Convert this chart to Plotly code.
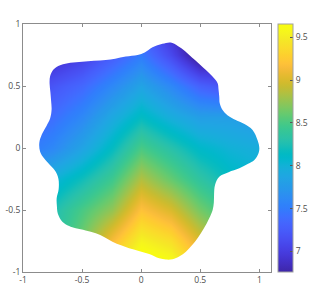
import plotly.graph_objects as go

# ---- data ----
grid_x = [-1.0, -0.75, -0.5, -0.25, 0.0, 0.25, 0.5, 0.75, 1.0]
grid_y = [-1.0, -0.75, -0.5, -0.25, 0.0, 0.25, 0.5, 0.75, 1.0]
# rows follow grid_y (bottom -> top), columns follow grid_x
z_rows = [
    [8.40, 8.70, 9.10, 9.55, 9.85, 9.75, 9.35, 8.90, 8.60],
    [8.10, 8.30, 8.65, 9.15, 9.55, 9.40, 9.00, 8.60, 8.30],
    [7.95, 8.25, 8.50, 8.75, 9.20, 9.00, 8.65, 8.40, 8.20],
    [7.80, 8.00, 8.20, 8.45, 8.85, 8.60, 8.35, 8.15, 8.05],
    [7.45, 7.60, 7.85, 8.15, 8.50, 8.30, 8.10, 8.00, 7.95],
    [7.25, 7.40, 7.60, 7.90, 8.15, 7.95, 7.80, 7.80, 7.75],
    [7.05, 7.20, 7.35, 7.60, 7.85, 7.60, 7.30, 7.15, 7.05],
    [6.80, 6.85, 7.00, 7.25, 7.50, 7.10, 6.60, 6.60, 6.60],
    [6.60, 6.60, 6.70, 7.00, 7.20, 6.80, 6.40, 6.40, 6.40],
]

# outline of the filled region (counter-clockwise, starting at the right lobe)
edge_x = [1.00, 0.986, 0.943, 0.87, 0.80, 0.73, 0.689, 0.665, 0.661, 0.655, 0.647,
          0.60, 0.548, 0.49, 0.43, 0.37, 0.31, 0.25, 0.18, 0.096, 0.03, -0.03,
          -0.13, -0.22, -0.30, -0.40, -0.50, -0.60, -0.68, -0.74, -0.77, -0.775,
          -0.768, -0.762, -0.758, -0.77, -0.80, -0.84, -0.862, -0.855, -0.822,
          -0.77, -0.723, -0.70, -0.698, -0.715, -0.713, -0.705, -0.667, -0.61,
          -0.553, -0.47, -0.384, -0.31, -0.243, -0.17, -0.102, -0.02, 0.068,
          0.153, 0.21, 0.265, 0.325, 0.379, 0.43, 0.477, 0.53, 0.576, 0.605,
          0.615, 0.617, 0.625, 0.661, 0.74, 0.831, 0.905, 0.958, 0.994]
edge_y = [0.00, 0.06, 0.145, 0.195, 0.226, 0.265, 0.306, 0.36, 0.414, 0.47, 0.522,
          0.58, 0.629, 0.68, 0.73, 0.783, 0.823, 0.850, 0.84, 0.812, 0.77, 0.75,
          0.737, 0.72, 0.71, 0.703, 0.696, 0.688, 0.67, 0.635, 0.58, 0.52,
          0.45, 0.38, 0.31, 0.24, 0.18, 0.11, 0.04, -0.03, -0.083,
          -0.14, -0.191, -0.25, -0.33, -0.406, -0.47, -0.53, -0.594, -0.63,
          -0.648, -0.665, -0.688, -0.72, -0.756, -0.785, -0.809, -0.83, -0.855,
          -0.89, -0.90, -0.897, -0.873, -0.836, -0.785, -0.728, -0.65, -0.567, -0.50,
          -0.44, -0.37, -0.298, -0.231, -0.195, -0.164, -0.128, -0.097, -0.04]

tick_vals = [-1, -0.5, 0, 0.5, 1]
tick_text = ["-1", "-0.5", "0", "0.5", "1"]
cbar_vals = [7, 7.5, 8, 8.5, 9, 9.5]
cbar_text = ["7", "7.5", "8", "8.5", "9", "9.5"]
c_min, c_max = 6.76, 9.655

# ---- style ----
parula_rgb = [
    (0.2422, 0.1504, 0.6603), (0.2504, 0.1650, 0.7076), (0.2578, 0.1818, 0.7511),
    (0.2647, 0.1978, 0.7952), (0.2706, 0.2147, 0.8364), (0.2751, 0.2342, 0.8710),
    (0.2783, 0.2559, 0.8991), (0.2803, 0.2782, 0.9221), (0.2813, 0.3006, 0.9414),
    (0.2810, 0.3228, 0.9579), (0.2795, 0.3447, 0.9717), (0.2760, 0.3667, 0.9829),
    (0.2699, 0.3892, 0.9906), (0.2602, 0.4123, 0.9952), (0.2440, 0.4358, 0.9988),
    (0.2206, 0.4603, 0.9973), (0.1963, 0.4847, 0.9892), (0.1834, 0.5074, 0.9798),
    (0.1786, 0.5289, 0.9682), (0.1764, 0.5499, 0.9520), (0.1687, 0.5703, 0.9359),
    (0.1540, 0.5902, 0.9218), (0.1460, 0.6091, 0.9079), (0.1380, 0.6276, 0.8973),
    (0.1248, 0.6459, 0.8883), (0.1113, 0.6635, 0.8763), (0.0952, 0.6798, 0.8598),
    (0.0689, 0.6948, 0.8394), (0.0297, 0.7082, 0.8163), (0.0036, 0.7199, 0.7918),
    (0.0067, 0.7299, 0.7664), (0.0433, 0.7388, 0.7394), (0.0964, 0.7466, 0.7103),
    (0.1408, 0.7543, 0.6806), (0.1717, 0.7619, 0.6496), (0.1938, 0.7692, 0.6174),
    (0.2161, 0.7761, 0.5843), (0.2470, 0.7824, 0.5492), (0.2906, 0.7873, 0.5130),
    (0.3406, 0.7899, 0.4762), (0.3909, 0.7903, 0.4402), (0.4456, 0.7878, 0.4058),
    (0.5044, 0.7814, 0.3727), (0.5616, 0.7740, 0.3381), (0.6174, 0.7648, 0.3024),
    (0.6720, 0.7552, 0.2658), (0.7242, 0.7463, 0.2295), (0.7738, 0.7382, 0.1973),
    (0.8203, 0.7322, 0.1780), (0.8634, 0.7290, 0.1763), (0.9035, 0.7275, 0.1886),
    (0.9393, 0.7296, 0.2090), (0.9728, 0.7389, 0.2263), (0.9956, 0.7610, 0.2210),
    (0.9970, 0.7868, 0.1985), (0.9914, 0.8125, 0.1806), (0.9858, 0.8373, 0.1711),
    (0.9786, 0.8619, 0.1649), (0.9687, 0.8863, 0.1569), (0.9619, 0.9110, 0.1464),
    (0.9601, 0.9354, 0.1299), (0.9648, 0.9591, 0.1093), (0.9697, 0.9821, 0.0822),
    (0.9763, 0.9831, 0.0538)]
n = len(parula_rgb)
parula = [[i / (n - 1), "rgb(%d,%d,%d)" % (round(r * 255), round(g * 255), round(b * 255))]
          for i, (r, g, b) in enumerate(parula_rgb)]

font_family = "Open Sans, Noto Sans, Arial, sans-serif"
text_col = "#4d4d4d"
axis_col = "#8c8c8c"

# layout geometry in pixels
W, H = 311, 287
m_l, m_r, m_t, m_b = 23, 0, 24, 15
plot_right_px = 272
cbar_left_px = 278
paper_w = W - m_l - m_r

fig = go.Figure()
fig.add_trace(go.Heatmap(
    x=grid_x, y=grid_y, z=z_rows, zsmooth="best",
    colorscale=parula, zmin=c_min, zmax=c_max, hoverinfo="skip",
    colorbar=dict(
        x=(cbar_left_px - m_l) / paper_w, xanchor="left", xpad=0, ypad=0,
        y=0.5, yanchor="middle",
        len=1, lenmode="fraction", thickness=15, thicknessmode="pixels",
        outlinewidth=1, outlinecolor="#a0a0a0",
        tickmode="array", tickvals=cbar_vals, ticktext=cbar_text,
        ticks="inside", ticklen=3, tickcolor="#555555", tickwidth=1,
        tickfont=dict(family=font_family, size=8.5, color=text_col),
    ),
))

# white mask outside the outline (outer frame + hole), smoothed by plotly's spline
far = 3.0
frame_x = [-far, far, far, -far, -far]
frame_y = [-far, -far, far, far, -far]
hole_x = list(reversed(edge_x + [edge_x[0]]))
hole_y = list(reversed(edge_y + [edge_y[0]]))
fig.add_trace(go.Scatter(
    x=frame_x + [None] + hole_x, y=frame_y + [None] + hole_y,
    mode="lines", fill="toself", fillcolor="white",
    line=dict(width=0, shape="spline", smoothing=1, simplify=False, color="white"),
    hoverinfo="skip", showlegend=False,
))

axis_common = dict(
    showgrid=False, zeroline=False, showline=True, linecolor=axis_col, linewidth=1,
    mirror="ticks", ticks="inside", ticklen=3, tickcolor=axis_col, tickwidth=1,
    tickmode="array", tickvals=tick_vals, ticktext=tick_text,
    tickfont=dict(family=font_family, size=8.5, color=text_col),
    automargin=False,
)
fig.update_layout(
    width=W, height=H,
    margin=dict(l=m_l, r=m_r, t=m_t, b=m_b),
    paper_bgcolor="white", plot_bgcolor="white",
    xaxis=dict(range=[-1, 1.1], domain=[0, (plot_right_px - m_l) / paper_w], **axis_common),
    yaxis=dict(range=[-1, 1], **axis_common),
    showlegend=False,
)
fig.write_html("out.html", post_script="document.body.style.margin='0';",
               config={"displayModeBar": False})
